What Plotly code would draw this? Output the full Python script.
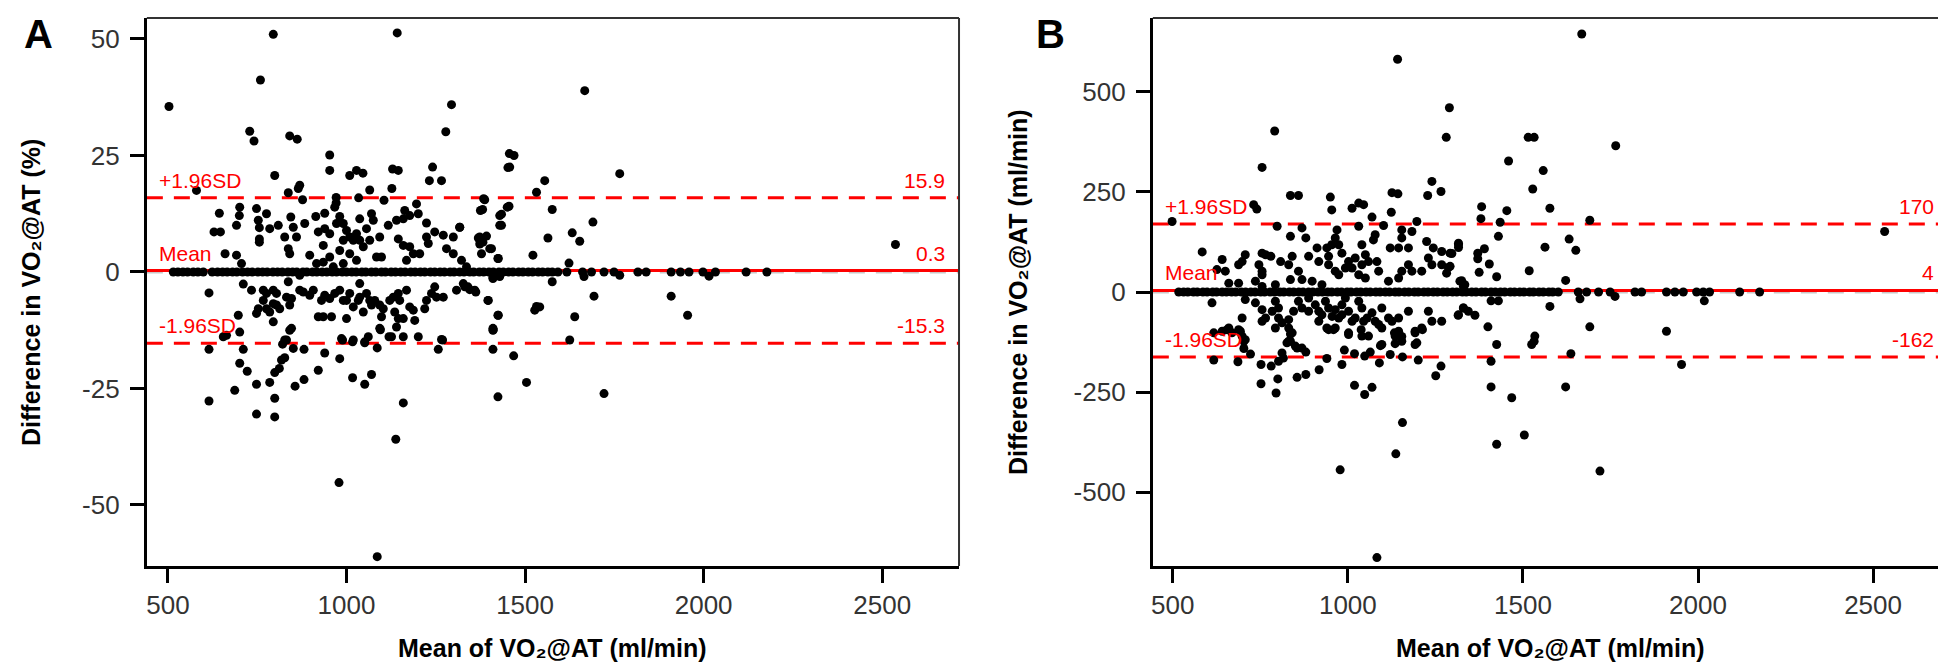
import plotly.graph_objects as go

# ---------------- Panel A : difference in % ----------------
a_points = [
    (503, 35.5), (795, 51), (759, 41.2), (1142, 51.3), (729, 30.2), (741, 28.1), (841, 29.2), (862, 28.5),
    (1294, 35.9), (1278, 30.1), (799, 20.7), (953, 25.1), (953, 21.8), (1009, 20.7), (1028, 21.8), (1046, 21.2),
    (1129, 22.1), (1145, 21.8), (1241, 22.5), (1232, 19.6), (1266, 19.6), (1452, 22.4), (580, 17.5), (837, 17),
    (869, 18.6), (865, 17.9), (1065, 17.6), (1127, 17.9), (1105, 15.4), (1034, 15.9), (877, 15.5), (971, 16),
    (971, 14.8), (1387, 15.5), (1450, 13.9),
    (1667, 38.9), (1456, 25.4), (1469, 25), (1457, 22.5), (1765, 21.1), (1555, 19.6), (1532, 17.1), (1384, 15.7),
    (1381, 13.4), (1455, 14.1), (1434, 12.4), (1429, 10), (1576, 13.4), (1690, 10.7), (1317, 9.6), (1369, 7.3),
    (1392, 7.7), (1373, 6), (1406, 5), (1378, 3.9), (1425, 2.9), (1564, 7.3), (1632, 8.4), (1653, 6.6),
    (1522, 3.6), (1623, 1.9), (2537, 5.9),
    (644, 12.6), (629, 8.6), (647, 8.6), (701, 13.9), (700, 12.1), (692, 10), (748, 13.6), (753, 11.1),
    (756, 9.5), (756, 7.1), (756, 6.4), (776, 12.5), (785, 9.3), (809, 10), (844, 11.8), (851, 9.6),
    (827, 7.5), (860, 7.5), (883, 10.4), (914, 11.9), (939, 12.6), (967, 13.9), (981, 11.9), (972, 10.4),
    (921, 8.6), (939, 9.3), (953, 8.2), (935, 5.7), (991, 10.4), (1000, 8.9), (1009, 7.5), (1019, 6.8),
    (1028, 8.2), (1037, 6.8), (1047, 5.4), (991, 6.8), (981, 4.6), (1009, 3.9), (1028, 2.5), (1070, 12.5),
    (1075, 11.1), (1037, 11.4), (1056, 9.3), (1117, 10), (1140, 11.1), (1163, 13.2), (1159, 11.4), (1177, 12.1),
    (1201, 12.5), (1196, 14.6), (1224, 10.5), (1247, 8.6), (1271, 7.9), (1299, 7.5), (1317, 9.6), (1373, 7.5),
    (1382, 6.4), (1375, 13.2), (1429, 12.1), (1434, 10), (1145, 7.1), (1159, 5.7), (1177, 5.4), (1205, 3.9),
    (1187, 3.9), (1168, 2.5), (1224, 7.5), (1229, 6.1), (1280, 5), (1299, 3.9), (1322, 2.5), (1336, 1.1),
    (1401, 5), (1424, 2.9), (660, 3.9), (692, 3.6), (706, 1.8), (841, 3.9), (837, 5), (897, 3.6),
    (916, 1.8), (935, 2.1), (1084, 3.2), (1098, 3.2), (963, 1.1), (1065, 6.8), (1093, 7.5), (991, 1.8),
    (953, 3.2),
    (615, -4.5), (711, -2.6), (734, -3.9), (767, -3.9), (776, -4.6), (795, -3.9), (804, -4.6), (767, -6.1),
    (753, -7.9), (776, -7.9), (795, -6.8), (804, -7.1), (813, -7.9), (785, -8.6), (795, -10.7), (748, -8.9),
    (697, -9.3), (701, -12.9), (837, -2.1), (832, -5.4), (846, -5.7), (841, -7.1), (869, -0.7), (869, -3.9),
    (879, -4.3), (897, -5), (907, -3.9), (930, -6.1), (939, -5), (953, -5.7), (921, -9.6), (935, -9.6),
    (958, -9.6), (967, -4.6), (981, -3.9), (991, -6.1), (1000, -6.1), (1009, -4.6), (1019, -7.5), (1033, -6.1),
    (1037, -2.5), (1037, -5.4), (1047, -8.6), (1056, -4.6), (1065, -6.1), (1070, -7.1), (1079, -6.1), (1093, -7.1),
    (1103, -7.9), (1098, -9.6), (1121, -6.1), (1131, -5.4), (1145, -4.6), (1149, -6.1), (1135, -8.6), (1145, -10),
    (1159, -10), (1168, -3.9), (1177, -7.5), (1187, -8.2), (1191, -10.4), (1219, -7.9), (1224, -6.1), (1238, -4.6),
    (1247, -3.2), (1252, -5.4), (1271, -5.4), (1308, -3.9), (1327, -2.5), (1340, -3.2), (1359, -3.9), (1396, -6.1),
    (1410, -1.1), (1424, -9.3), (1410, -12.1), (1000, -10), (1093, -12.1), (1126, -13.9), (1140, -11.8), (1159, -13.9),
    (1201, -13.9), (1266, -14.5), (1019, -14.6), (1061, -13.9), (986, -14.3), (1051, -15), (832, -14.6), (846, -12.1),
    (655, -13.9), (664, -13.6),
    (615, -16.6), (615, -27.7), (711, -16.6), (701, -19.6), (722, -21.3), (687, -25.4), (748, -24.1), (748, -30.5),
    (785, -23.7), (799, -27.1), (799, -31.1), (799, -21.6), (812, -20.7), (818, -18.9), (827, -18.4), (821, -15.5),
    (827, -14.6), (841, -12.5), (851, -16.4), (856, -24.5), (881, -16.6), (881, -23.1), (921, -21.1), (939, -17.4),
    (981, -18.6), (979, -45.2), (989, -14.6), (1017, -15), (1017, -22.7), (1051, -24.1), (1070, -22), (1051, -15.2),
    (1086, -16.3), (1095, -12.4), (1119, -13.9), (1257, -16.6), (1269, -14.6), (1159, -28.1), (1138, -35.9),
    (1086, -61.1), (1410, -12.5), (1410, -16.6), (1424, -26.8),
    (1410, -1.4), (1429, -1), (1331, -3.2), (1345, -3.8), (1362, -4.3), (1397, -6.1), (1576, -2.1), (1693, -5.2),
    (1909, -5.2), (1955, -9.3), (1425, -9.3), (1411, -12.4), (1532, -7.4), (1541, -7.5), (1527, -8.2), (1639, -9.6),
    (1625, -14.6), (1468, -18), (1504, -23.7), (1721, -26.1),
    (1665, -1), (1765, -0.7), (2015, -0.9),
]
a_zero_points = [
    (515, 0), (528, 0), (542, 0), (555, 0), (571, 0), (584, 0), (599, 0), (624, 0), (639, 0), (653, 0),
    (666, 0), (681, 0), (693, 0), (709, 0), (723, 0), (736, 0), (752, 0), (765, 0), (778, 0), (794, 0),
    (807, 0), (820, 0), (836, 0), (849, 0), (861, 0), (878, 0), (889, 0), (905, 0), (917, 0), (932, 0),
    (945, 0), (960, 0), (972, 0), (988, 0), (1000, 0), (1015, 0), (1027, 0), (1043, 0), (1054, 0), (1070, 0),
    (1082, 0), (1098, 0), (1109, 0), (1125, 0), (1137, 0), (1152, 0), (1164, 0), (1180, 0), (1192, 0), (1207, 0),
    (1219, 0), (1235, 0), (1247, 0), (1262, 0), (1274, 0), (1290, 0), (1301, 0), (1317, 0), (1329, 0), (1345, 0),
    (1356, 0), (1372, 0), (1384, 0), (1399, 0), (1411, 0), (1427, 0), (1439, 0), (1454, 0), (1466, 0), (1482, 0),
    (1494, 0), (1509, 0), (1521, 0), (1537, 0), (1549, 0), (1564, 0), (1576, 0), (1592, 0), (1617, 0), (1661, 0),
    (1686, 0), (1721, 0), (1749, 0), (1816, 0), (1839, 0), (1909, 0), (1935, 0), (1959, 0), (1998, 0), (2033, 0),
    (2119, 0), (2177, 0),
]
a_mean, a_upper, a_lower = 0.3, 15.9, -15.3
a_mean_txt, a_upper_txt, a_lower_txt = "0.3", "15.9", "-15.3"

# ---------------- Panel B : difference in ml/min ----------------
b_points = [
    (1142, 581), (791, 402), (755, 311), (1290, 460), (1281, 386), (1240, 276), (1228, 241), (1266, 251),
    (1126, 248), (1143, 245), (836, 241), (859, 241), (950, 237), (954, 205), (731, 218), (740, 207),
    (1012, 209), (1031, 222), (1045, 218), (498, 176), (1069, 187), (1102, 166), (1124, 199), (1197, 176),
    (798, 164), (869, 160), (836, 139), (880, 135), (1031, 164), (969, 155), (964, 135), (974, 118),
    (584, 100), (1154, 155), (1154, 135), (1183, 151), (1316, 118), (1225, 126), (1244, 110), (1268, 101),
    (1292, 97), (1073, 130), (1078, 143), (1121, 110), (1145, 110), (1173, 110), (1040, 118), (1050, 93),
    (912, 110), (940, 110), (954, 118), (983, 97), (707, 93), (698, 76), (688, 68), (641, 81),
    (626, 56), (650, 52), (755, 97), (765, 93), (746, 68), (755, 52), (755, 43), (780, 89),
    (808, 76), (841, 89), (831, 68), (859, 52), (836, 31),
    (888, 89), (917, 76), (945, 89), (945, 68), (964, 52), (974, 43), (993, 60), (1002, 76),
    (1021, 85), (1012, 60), (1040, 68), (1031, 43), (1050, 35), (1059, 76), (1083, 76), (1088, 52),
    (1116, 27), (1145, 35), (1154, 52), (1173, 68), (1183, 52), (1211, 52), (1230, 85), (1240, 68),
    (1268, 68), (1282, 47), (1292, 64), (1320, 27), (1334, 18),
    (660, 22), (688, 22), (736, 27), (755, 14), (793, 18), (869, 31), (898, 27), (926, 18),
    (612, -27), (617, -102), (641, -98), (660, -90), (669, -102), (688, -94), (698, -110), (703, -123),
    (698, -65), (707, -19), (736, -27),
    (755, -44), (765, -65), (755, -73), (793, -23), (784, -48), (802, -40), (802, -65), (812, -77),
    (831, -69), (831, -90), (845, -48), (841, -102), (836, -123), (859, -23), (869, -40), (888, -15),
    (888, -48), (907, -32), (917, -48), (917, -73), (926, -57), (936, -23), (945, -40), (955, -61),
    (964, -44), (974, -65), (983, -32), (993, -15), (983, -57), (1002, -48), (1012, -73), (1021, -65),
    (1031, -23), (1040, -40), (1045, -73), (1055, -65), (1069, -52), (1078, -73), (1088, -81), (1097, -40),
    (1116, -65), (1126, -73), (1145, -65), (1173, -48), (1192, -98), (1211, -90), (1230, -48), (1240, -73),
    (1268, -73), (1316, -57), (1330, -40),
    (831, -123), (850, -135), (869, -140), (945, -94), (964, -90), (1002, -102), (1040, -110), (1059, -110),
    (1097, -131), (1135, -110), (1154, -123), (1192, -131), (1145, -98),
    (655, -94), (693, -98), (617, -170), (686, -174), (703, -141), (722, -155), (707, -119),
    (752, -181), (752, -229), (781, -185), (802, -173), (816, -165), (812, -152), (826, -127), (836, -105),
    (793, -90), (800, -217), (795, -252), (855, -140), (880, -150), (855, -213), (880, -206), (918, -194),
    (940, -166), (940, -90), (959, -94), (978, -444), (983, -181), (990, -145), (1002, -106), (1019, -154),
    (1038, -94), (1019, -233), (1048, -256), (1069, -238), (1048, -160), (1064, -150), (1090, -177), (1093, -134),
    (1097, -90), (1121, -156), (1133, -102), (1135, -129), (1154, -111), (1156, -162), (1192, -102), (1197, -127),
    (1201, -170), (1213, -94), (1156, -326), (1137, -404), (1083, -663), (1251, -209), (1266, -185),
    (1668, 644), (1515, 386), (1532, 386), (1765, 365), (1459, 327), (1558, 303), (1528, 257), (1577, 209),
    (1382, 213), (1380, 183), (1454, 203), (1435, 174), (1691, 179), (1430, 139), (2533, 151),
    (1316, 122), (1316, 111), (1297, 96), (1371, 97), (1390, 108), (1371, 83), (1287, 61), (1404, 70),
    (1375, 49), (1425, 38), (1325, 28), (1330, 14), (1518, 53), (1632, 132), (1651, 104), (1563, 112),
    (1622, 29),
    (1409, -22), (1430, -22), (1330, -40), (1344, -48), (1363, -58), (1315, -58), (1577, -36), (1400, -87),
    (1691, -87), (1910, -98), (1425, -131), (1534, -110), (1532, -123), (1525, -131),
    (1409, -173), (1409, -237), (1468, -264), (1425, -380), (1504, -357), (1622, -237), (1637, -154), (1720, -447),
    (1953, -181),
    (1663, -17), (1763, -11), (2018, -22),
]
b_zero_points = [
    (517, 0), (531, 0), (543, 0), (559, 0), (570, 0), (586, 0), (598, 0), (614, 0), (625, 0), (641, 0),
    (653, 0), (668, 0), (680, 0), (696, 0), (708, 0), (723, 0), (735, 0), (751, 0), (762, 0), (778, 0),
    (790, 0), (806, 0), (817, 0), (833, 0), (845, 0), (860, 0), (872, 0), (888, 0), (900, 0), (915, 0),
    (927, 0), (943, 0), (954, 0), (970, 0), (982, 0), (998, 0), (1009, 0), (1025, 0), (1037, 0), (1052, 0),
    (1064, 0), (1080, 0), (1092, 0), (1107, 0), (1119, 0), (1135, 0), (1146, 0), (1162, 0), (1174, 0), (1190, 0),
    (1201, 0), (1217, 0), (1229, 0), (1244, 0), (1256, 0), (1272, 0), (1284, 0), (1299, 0), (1311, 0), (1327, 0),
    (1338, 0), (1354, 0), (1366, 0), (1382, 0), (1393, 0), (1409, 0), (1421, 0), (1436, 0), (1448, 0), (1464, 0),
    (1476, 0), (1491, 0), (1503, 0), (1519, 0), (1530, 0), (1546, 0), (1558, 0), (1574, 0), (1585, 0), (1601, 0),
    (1658, 0), (1682, 0), (1716, 0), (1749, 0), (1820, 0), (1839, 0), (1910, 0), (1934, 0), (1958, 0), (1996, 0),
    (2015, 0), (2033, 0), (2119, 0), (2176, 0),
]
b_mean, b_upper, b_lower = 4, 170, -162
b_mean_txt, b_upper_txt, b_lower_txt = "4", "170", "-162"

x_ticks = [500, 1000, 1500, 2000, 2500]
x_tick_text = ["500", "1000", "1500", "2000", "2500"]
a_y_ticks = [-50, -25, 0, 25, 50]
a_y_tick_text = ["-50", "-25", "0", "25", "50"]
b_y_ticks = [-500, -250, 0, 250, 500]
b_y_tick_text = ["-500", "-250", "0", "250", "500"]

x_title = "Mean of VO₂@AT (ml/min)"
a_y_title = "Difference in VO₂@AT (%)"
b_y_title = "Difference in VO₂@AT (ml/min)"

FONT = "Liberation Sans, Arial, sans-serif"
W, H = 1946, 665
RED = "#ff0000"

fig = go.Figure()

def add_panel(points, zeros, xa, ya):
    pts = zeros + points
    fig.add_trace(go.Scatter(
        x=[p[0] for p in pts], y=[p[1] for p in pts], mode="markers",
        marker=dict(color="black", size=9, line=dict(width=0)),
        xaxis=xa, yaxis=ya, showlegend=False, hoverinfo="skip"))

add_panel(a_points, a_zero_points, "x", "y")
add_panel(b_points, b_zero_points, "x2", "y2")

def px2fx(px):
    return px / W

def px2fy(py):
    return 1 - py / H

axis_common = dict(
    showgrid=False, zeroline=False, showline=True, linecolor="black", linewidth=3,
    ticks="outside", ticklen=14, tickwidth=3, tickcolor="black",
    tickfont=dict(family=FONT, size=26, color="#333333"),
)

fig.update_layout(
    width=W, height=H, margin=dict(l=0, r=0, t=0, b=0),
    paper_bgcolor="white", plot_bgcolor="white",
    xaxis=dict(domain=[px2fx(137), px2fx(950)], range=[441, 2715], tickvals=x_ticks,
               ticktext=x_tick_text, anchor="y", **axis_common),
    yaxis=dict(domain=[px2fy(558), px2fy(10)], range=[-63.1, 54.5], tickvals=a_y_ticks,
               ticktext=a_y_tick_text, anchor="x", ticklabelstandoff=5, **axis_common),
    xaxis2=dict(domain=[px2fx(1144), px2fx(1940)], range=[443, 2714], tickvals=x_ticks,
                ticktext=x_tick_text, anchor="y2", **axis_common),
    yaxis2=dict(domain=[px2fy(558), px2fy(10)], range=[-684, 684], tickvals=b_y_ticks,
                ticktext=b_y_tick_text, anchor="x2", ticklabelstandoff=5, **axis_common),
)

shapes = []
annotations = []

def ref_lines(xr, yr, mean, upper, lower, mean_t, upper_t, lower_t):
    xd = xr + " domain"
    yd = yr + " domain"
    # grey line of zero difference, just beneath the mean line
    shapes.append(dict(type="line", xref=xd, yref=yr, x0=0, x1=1, y0=0, y1=0, layer="below",
                       line=dict(color="#c8c8c8", width=3, dash="16px,11px")))
    shapes.append(dict(type="line", xref=xd, yref=yr, x0=0, x1=1, y0=mean, y1=mean, layer="below",
                       line=dict(color=RED, width=3)))
    for v in (upper, lower):
        shapes.append(dict(type="line", xref=xd, yref=yr, x0=0, x1=1, y0=v, y1=v, layer="below",
                           line=dict(color=RED, width=3, dash="16px,11px")))
    # top and right frame lines (thin)
    shapes.append(dict(type="line", xref=xd, yref=yd, x0=0, x1=1, y0=1, y1=1,
                       line=dict(color="#333333", width=2)))
    shapes.append(dict(type="line", xref=xd, yref=yd, x0=1, x1=1, y0=0, y1=1,
                       line=dict(color="#333333", width=2)))
    for v, left, right in ((upper, "+1.96SD", upper_t), (mean, "Mean", mean_t), (lower, "-1.96SD", lower_t)):
        annotations.append(dict(xref=xd, yref=yr, x=0, y=v, text=left, showarrow=False,
                                xanchor="left", yanchor="bottom", xshift=10, yshift=4,
                                font=dict(family=FONT, size=21, color=RED)))
        annotations.append(dict(xref=xd, yref=yr, x=1, y=v, text=right, showarrow=False,
                                xanchor="right", yanchor="bottom", xshift=-12, yshift=4,
                                font=dict(family=FONT, size=21, color=RED)))

ref_lines("x", "y", a_mean, a_upper, a_lower, a_mean_txt, a_upper_txt, a_lower_txt)
ref_lines("x2", "y2", b_mean, b_upper, b_lower, b_mean_txt, b_upper_txt, b_lower_txt)

title_font = dict(family=FONT, size=25, color="black")
annotations += [
    dict(xref="paper", yref="paper", x=px2fx(543), y=px2fy(656), text="<b>" + x_title + "</b>",
         showarrow=False, xanchor="center", yanchor="bottom", font=title_font),
    dict(xref="paper", yref="paper", x=px2fx(1542), y=px2fy(656), text="<b>" + x_title + "</b>",
         showarrow=False, xanchor="center", yanchor="bottom", font=title_font),
    dict(xref="paper", yref="paper", x=px2fx(21), y=px2fy(284), text="<b>" + a_y_title + "</b>",
         showarrow=False, xanchor="center", yanchor="middle", textangle=-90, font=title_font),
    dict(xref="paper", yref="paper", x=px2fx(1009), y=px2fy(284), text="<b>" + b_y_title + "</b>",
         showarrow=False, xanchor="center", yanchor="middle", textangle=-90, font=title_font),
    dict(xref="paper", yref="paper", x=px2fx(29), y=px2fy(26), text="<b>A</b>",
         showarrow=False, xanchor="center", yanchor="middle", font=dict(family=FONT, size=40, color="black")),
    dict(xref="paper", yref="paper", x=px2fx(1042), y=px2fy(26), text="<b>B</b>",
         showarrow=False, xanchor="center", yanchor="middle", font=dict(family=FONT, size=40, color="black")),
]

fig.update_layout(shapes=shapes, annotations=annotations)
fig.write_html("out.html", config={"displayModeBar": False})
